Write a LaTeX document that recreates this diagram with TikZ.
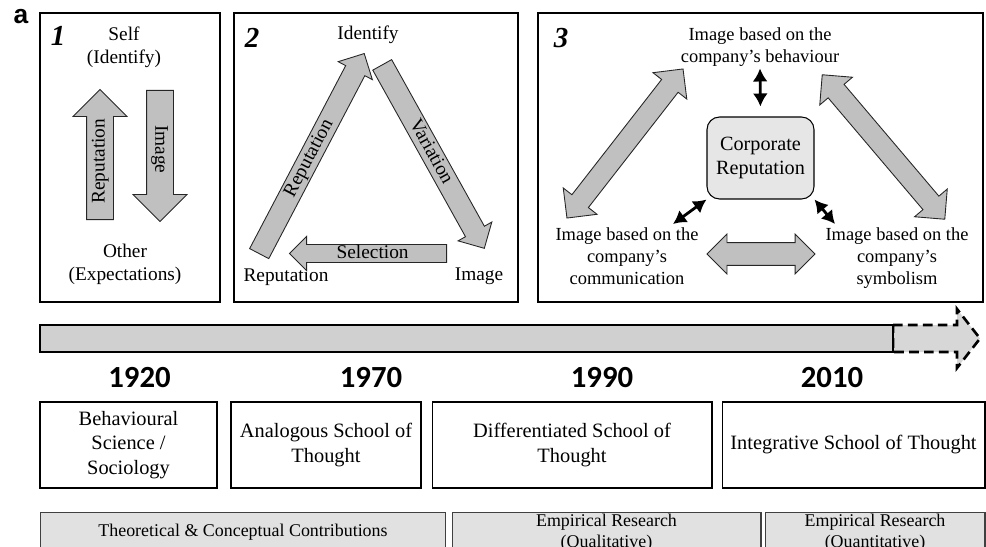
\documentclass[tikz,border=0pt]{standalone}
\usepackage{fontspec}
\setmainfont{Liberation Serif}
\newfontfamily\yearfont{Carlito}
\newfontfamily\tagfont{Liberation Sans}
\usetikzlibrary{shapes.arrows,arrows.meta}

\definecolor{arrowgray}{RGB}{192,192,192}
\definecolor{corpgray}{RGB}{230,230,230}
\definecolor{linegray}{RGB}{208,208,208}
\definecolor{boxgray}{RGB}{225,225,225}

\tikzset{
  panel/.style={draw, line width=1.2pt},
  numtag/.style={font=\fontsize{16.5}{16.5}\selectfont\bfseries\itshape},
  txt/.style={align=center, inner sep=1pt, font=\fontsize{11}{13}\selectfont},
  smalltxt/.style={align=center, inner sep=1pt, font=\fontsize{10.5}{12.5}\selectfont},
  bigarrow/.style={single arrow, draw=black!85, line width=0.5pt, fill=arrowgray, anchor=tail,
    inner xsep=0pt, text height=7.6pt, text depth=2.2pt, font=\fontsize{11}{13}\selectfont},
  twoarrow/.style={double arrow, draw=black!85, line width=0.5pt, fill=arrowgray, inner xsep=0pt},
  dblarrow/.style={{Latex[length=2.6mm,width=3mm]}-{Latex[length=2.6mm,width=3mm]}, line width=1.6pt},
  yearlbl/.style={font=\yearfont\bfseries\fontsize{17.5}{18}\selectfont},
  school/.style={draw, line width=0.6pt, minimum height=1.72cm, align=center,
    font=\fontsize{11.6}{13.8}\selectfont},
  research/.style={draw=black!75, line width=0.6pt, fill=boxgray, anchor=north, minimum height=0.78cm,
    inner ysep=1pt, align=center, font=\fontsize{10.2}{11.9}\selectfont},
}

\begin{document}
\begin{tikzpicture}[x=0.02cm, y=-0.02cm]
  \useasboundingbox (0,0) rectangle (986,547);
  \clip (0,0) rectangle (986,547);
  \node[font=\tagfont\bfseries\fontsize{15}{15}\selectfont] (tag) at (21,17) {a};

  % panel 1: self and other
  \draw[panel] (40,13) rectangle (220,302);
  \node[numtag] (num1) at (58,36) {1};
  \node[txt] (self) at (124,47) {Self\\(Identify)};
  \node[txt] (other) at (125,264) {Other\\(Expectations)};
  \node[bigarrow, rotate=90, minimum height=2.6cm, inner ysep=2.5pt, single arrow head extend=0.27cm] (rep1) at (100,220) {Reputation};
  \node[bigarrow, rotate=-90, minimum height=2.62cm, inner ysep=2.5pt, single arrow head extend=0.27cm] (img1) at (160,90) {Image};

  % panel 2: the cycle
  \draw[panel] (234,13) rectangle (518,302);
  \node[numtag] (num2) at (252,38) {2};
  \node[txt] (ident) at (368,35) {Identify};
  \node[txt] (rep) at (286,277) {Reputation};
  \node[txt] (img) at (479,276) {Image};
  \node[bigarrow, rotate=62.3, minimum height=4.52cm, inner ysep=1pt, single arrow head extend=0.17cm] (reparrow) at (259,254) {Reputation};
  \node[bigarrow, rotate=-60.9, minimum height=4.2cm, inner ysep=1pt, single arrow head extend=0.17cm] (vararrow) at (382,64.5) {Variation};
  \node[bigarrow, shape border rotate=180, minimum height=3.14cm, inner ysep=0pt, single arrow head extend=0.16cm] (selarrow) at (447,253.5) {Selection};

  % panel 3: corporate reputation
  \draw[panel] (538,13) rectangle (983,302);
  \node[numtag] (num3) at (561,38) {3};
  \node[smalltxt] (behav) at (760,47) {Image based on the\\company's behaviour};
  \node[draw, line width=0.6pt, fill=corpgray, rounded corners=0.25cm, minimum width=2.14cm, minimum height=1.64cm,
    align=center, font=\fontsize{11.5}{14}\selectfont] (corp) at (760.5,158) {Corporate\\Reputation};
  \node[smalltxt] (comm) at (627,256) {Image based on the\\company's\\communication};
  \node[smalltxt] (symb) at (897,258) {Image based on the\\company's\\symbolism};
  \node[twoarrow, rotate=52.1, minimum height=3.78cm, inner ysep=0.2cm, double arrow head extend=0.22cm] (leftlink) at (625,143.5) {};
  \node[twoarrow, rotate=-49.7, minimum height=3.79cm, inner ysep=0.2cm, double arrow head extend=0.22cm] (rightlink) at (883.5,147) {};
  \node[twoarrow, minimum height=2.16cm, inner ysep=0.22cm, double arrow head extend=0.17cm] (baselink) at (761,254) {};
  \coordinate (commend) at (673,224);
  \coordinate (symbend) at (835,224);
  \draw[dblarrow, shorten >=0.2cm] (behav.south) -- (corp.north);
  \draw[dblarrow] (corp.south west) -- (commend);
  \draw[dblarrow] (corp.south east) -- (symbend);

  % time line
  \draw[line width=1.5pt, dash pattern=on 5.5pt off 3pt, fill=linegray!85] (893,325) -- (957,325) -- (957,309)
    -- (980,338.5) -- (957,368) -- (957,352) -- (893,352) -- cycle;
  \draw[line width=1.3pt, fill=linegray] (40,325) rectangle (893,352);
  \node[yearlbl] (y1920) at (139.5,378) {1920};
  \node[yearlbl] (y1970) at (371,378) {1970};
  \node[yearlbl] (y1990) at (602,378) {1990};
  \node[yearlbl] (y2010) at (832,378) {2010};

  % schools of thought
  \node[school, minimum width=3.54cm] (behsci) at (128.5,445) {Behavioural\\Science /\\Sociology};
  \node[school, minimum width=3.8cm] (analog) at (326,445) {Analogous School of\\Thought};
  \node[school, minimum width=5.6cm] (differ) at (572,445) {Differentiated School of\\Thought};
  \node[school, minimum width=5.26cm] (integr) at (853.5,445) {Integrative School of Thought};

  % research
  \node[research, minimum width=8.12cm] (theory) at (243,512) {Theoretical \& Conceptual Contributions};
  \node[research, minimum width=6.18cm] (qualit) at (606.5,512) {Empirical Research\\(Qualitative)};
  \node[research, minimum width=4.4cm] (quanti) at (875,512) {Empirical Research\\(Quantitative)};
\end{tikzpicture}
\end{document}
